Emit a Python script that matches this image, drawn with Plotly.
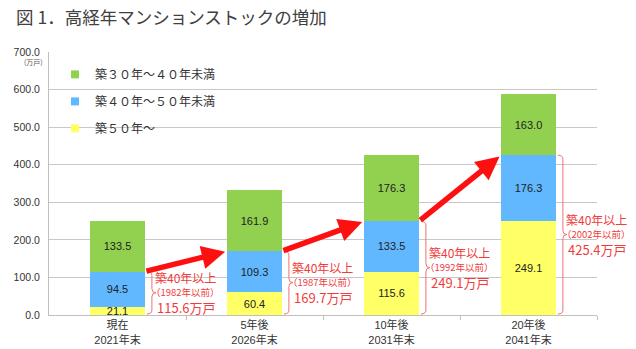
import plotly.graph_objects as go

# ---- data ----
categories = ["現在<br>2021年末", "5年後<br>2026年末", "10年後<br>2031年末", "20年後<br>2041年末"]
age50_plus = [21.1, 60.4, 115.6, 249.1]      # 築50年～
age40_50 = [94.5, 109.3, 133.5, 176.3]       # 築40年～50年未満
age30_40 = [133.5, 161.9, 176.3, 163.0]      # 築30年～40年未満
over40_total = [115.6, 169.7, 249.1, 425.4]  # 築40年以上
built_before = [1982, 1987, 1992, 2002]
y_ticks = [0, 100, 200, 300, 400, 500, 600, 700]

series_names = ["築５０年～", "築４０年～５０年未満", "築３０年～４０年未満"]
colors = ["#FFFF66", "#61B8FF", "#92D050"]

FONT = "Liberation Sans, Noto Sans CJK JP, sans-serif"
JFONT = "Noto Sans CJK JP, sans-serif"
RED = "#FF1010"
BRACE = "#F07070"
TEXTRED = "#F03C3C"
BW = 0.4

xs = list(range(len(categories)))
fig = go.Figure()
for name, vals, col in zip(series_names, [age50_plus, age40_50, age30_40], colors):
    fig.add_trace(go.Bar(
        x=xs, y=vals, name=name, marker=dict(color=col, line=dict(width=0)),
        width=BW, text=[f"{v:.1f}" for v in vals], textposition="inside",
        insidetextanchor="middle", constraintext="none",
        textfont=dict(size=11, color="#222222", family=FONT),
        showlegend=False, hoverinfo="skip"))

# legend entries (small square markers)
for name, col in zip(series_names[::-1], colors[::-1]):
    fig.add_trace(go.Scatter(
        x=[None], y=[None], mode="markers", name=name, legendgroup=name,
        marker=dict(symbol="square", size=8, color=col)))

# arrows between the 40+ totals
for i in range(len(xs) - 1):
    fig.add_annotation(
        x=xs[i + 1] - BW / 2, y=over40_total[i + 1], xref="x", yref="y",
        ax=xs[i] + BW / 2, ay=over40_total[i], axref="x", ayref="y",
        text="", showarrow=True, arrowhead=2, arrowsize=0.85,
        arrowwidth=5.5, arrowcolor=RED, standoff=2)

# braces and texts
px_x = 1 / 137.0
px_y = 700 / 263.0
for i, (tot, yr) in enumerate(zip(over40_total, built_before)):
    x0 = xs[i] + BW / 2 + 2 * px_x
    xv = x0 + 5 * px_x
    xt = xv + 4 * px_x
    top, bot = tot, 1 * px_y
    mid = (top + bot) / 2
    r = 4 * px_y
    path = (f"M{x0},{top} Q{xv},{top} {xv},{top - r} L{xv},{mid + r} "
            f"Q{xv},{mid} {xt},{mid} Q{xv},{mid} {xv},{mid - r} "
            f"L{xv},{bot + r} Q{xv},{bot} {x0},{bot}")
    fig.add_shape(type="path", path=path, xref="x", yref="y",
                  line=dict(color=BRACE, width=1))
    lines = [("築40年以上", 12, 15), (f"（{yr}年以前）", 9.5, 0.5), (f"{tot:.1f}万戸", 13, -15)]
    for txt, fs, ys in lines:
        fig.add_annotation(x=xs[i] + BW / 2, y=mid, xref="x", yref="y",
                           xanchor="center", yanchor="middle", xshift=41, yshift=ys,
                           text=txt, showarrow=False, borderpad=0,
                           font=dict(family=JFONT, color=TEXTRED, size=fs))

# unit label
fig.add_annotation(x=0, y=y_ticks[-1], xref="paper", yref="y", xshift=-27, yshift=-10,
                   text="(万戸)", showarrow=False,
                   font=dict(family=JFONT, size=7, color="#555555"))

fig.update_layout(
    width=636, height=349, barmode="stack",
    margin=dict(l=49, r=39, t=52, b=34),
    paper_bgcolor="white", plot_bgcolor="white",
    title=dict(text="図 1．高経年マンションストックの増加", xref="container", yref="container",
               x=16 / 636, y=1 - 18 / 349, xanchor="left", yanchor="middle",
               font=dict(family=JFONT, size=17.5, color="#404040")),
    legend=dict(x=0.011, y=0.97, xanchor="left", yanchor="top",
                traceorder="grouped", tracegroupgap=8, bgcolor="rgba(0,0,0,0)",
                font=dict(family=JFONT, size=12, color="#333333")),
    uniformtext=dict(minsize=11, mode="show"),
    xaxis=dict(range=[-0.5, 3.5], tickvals=xs, ticktext=categories, ticks="",
               showline=True, linecolor="#BFBFBF", linewidth=1, showgrid=False,
               zeroline=False, automargin=False,
               minor=dict(tickvals=[0.5, 1.5, 2.5, 3.5], ticks="outside", ticklen=4,
                          tickcolor="#BFBFBF", showgrid=False),
               tickfont=dict(family=FONT, size=11, color="#333333")),
    yaxis=dict(range=[0, 700], tickvals=y_ticks, tickformat=".1f",
               showgrid=True, gridcolor="#C8C8C8", gridwidth=1,
               showline=True, linecolor="#BFBFBF", linewidth=1, zeroline=False,
               ticks="", ticklabelstandoff=6, automargin=False,
               tickfont=dict(family=FONT, size=10.5, color="#333333")),
)

fig.write_html("out.html")
